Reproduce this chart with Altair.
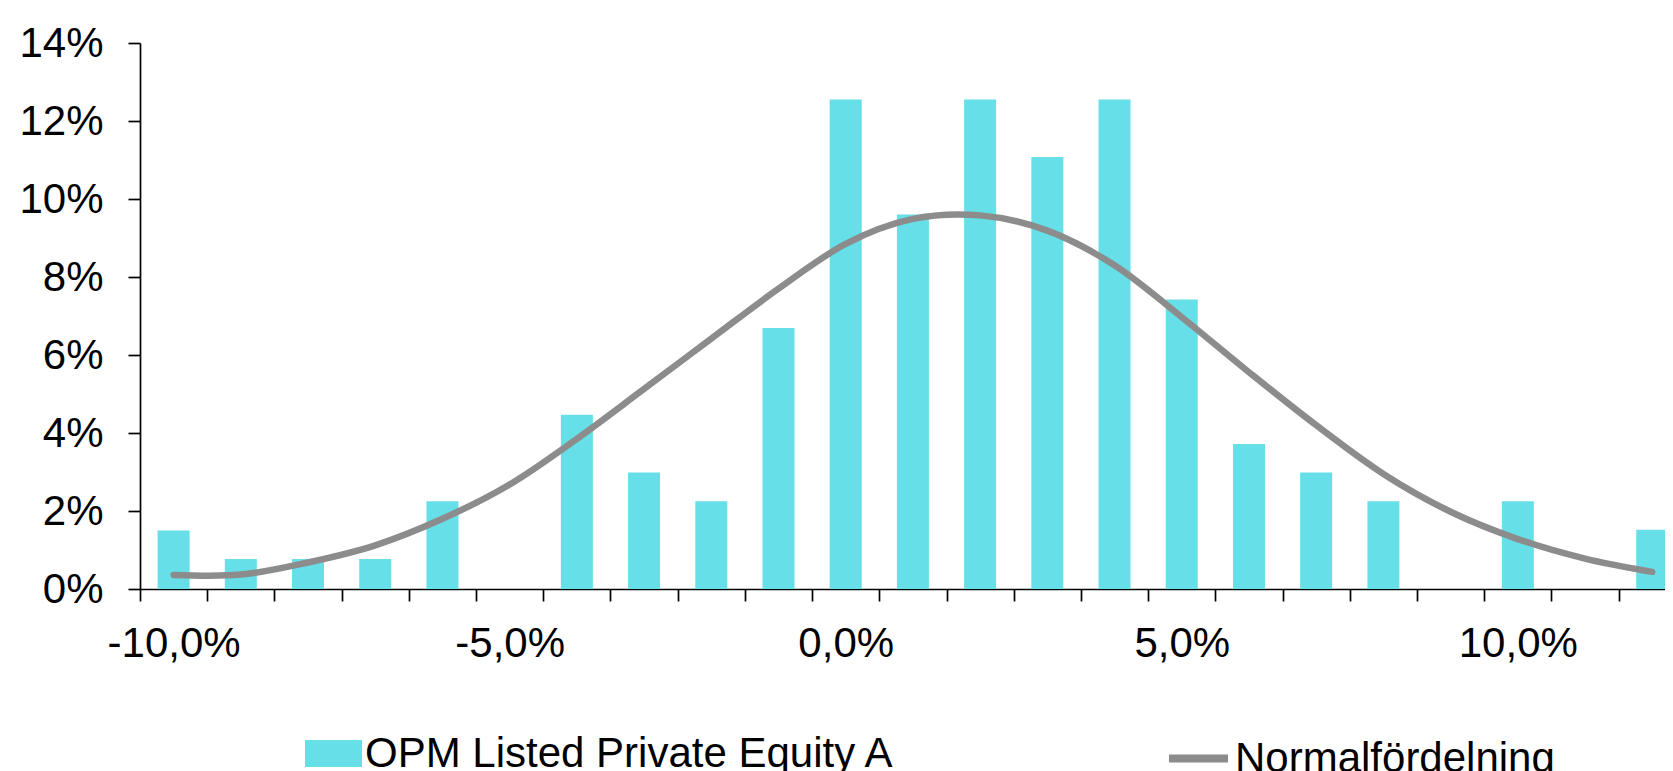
import altair as alt
import pandas as pd

# ---- data (values in percent) ----
bins = list(range(-10, 13))  # bin centres, in %
fund_share = [1.50, 0.77, 0.77, 0.77, 2.25, 0.00, 4.47, 2.99, 2.25, 6.69,
              12.55, 9.60, 12.55, 11.08, 12.55, 7.42, 3.72, 2.99, 2.25, 0.00,
              2.25, 0.00, 1.52]
normal_share = [0.36, 0.37, 0.68, 1.12, 1.80, 2.68, 3.85, 5.13, 6.42, 7.70,
                8.85, 9.49, 9.58, 9.19, 8.30, 6.97, 5.56, 4.20, 2.95, 1.98,
                1.28, 0.78, 0.44]
y_tick_values = [0.00, 0.02, 0.04, 0.06, 0.08, 0.10, 0.12, 0.14]
x_label_values = [-10, -5, 0, 5, 10]
x_tick_values = [b - 0.5 for b in bins]
series_fund = "OPM Listed Private Equity A"
series_normal = "Normalfördelning"

df = pd.DataFrame({
    "bin": bins,
    "fund": [v / 100 for v in fund_share],
    "normal": [v / 100 for v in normal_share],
    "s_fund": series_fund,
    "s_normal": series_normal,
})

FONT = "Liberation Sans"
BAR_COLOR = "#66dfe8"
LINE_COLOR = "#8c8c8c"
AXIS_COLOR = "#000000"

x_scale = alt.Scale(domain=[-10.5, 12.19], nice=False, zero=False, padding=0)
y_scale = alt.Scale(domain=[0, 0.14], nice=False, zero=True, padding=0)

x_axis = alt.Axis(
    title=None,
    values=x_tick_values + x_label_values,
    labelExpr="datum.value % 5 === 0 ? ((datum.value < 0 ? '-' : '') + abs(datum.value) + ',0%') : ''",
    tickOpacity={"condition": {"test": "datum.value % 1 === 0", "value": 0}, "value": 1},
    grid=False,
    domainColor=AXIS_COLOR,
    domainWidth=1.7,
    tickColor=AXIS_COLOR,
    tickWidth=1.7,
    tickSize=12,
    labelFont=FONT,
    labelFontSize=42,
    labelColor="#000000",
    labelPadding=22,
    labelOverlap=False,
    labelFlush=False,
    labelBound=False,
)

y_axis = alt.Axis(
    title=None,
    values=y_tick_values,
    format=".0%",
    grid=False,
    domainColor=AXIS_COLOR,
    domainWidth=1.7,
    tickColor=AXIS_COLOR,
    tickWidth=1.7,
    tickSize=12,
    labelFont=FONT,
    labelFontSize=42,
    labelColor="#000000",
    labelPadding=25,
    labelOverlap=False,
)

bars = alt.Chart(df).mark_bar(size=32).encode(
    x=alt.X("bin:Q", scale=x_scale, axis=x_axis),
    y=alt.Y("fund:Q", scale=y_scale, axis=y_axis),
    fill=alt.Fill(
        "s_fund:N",
        scale=alt.Scale(domain=[series_fund], range=[BAR_COLOR]),
        legend=alt.Legend(
            title=None,
            orient="none",
            legendX=165,
            legendY=682,
            padding=0,
            symbolType="M-1,-0.47L1,-0.47L1,0.47L-1,0.47Z",
            symbolSize=3249,
            symbolStrokeWidth=0,
            symbolOpacity=1,
            labelFont=FONT,
            labelFontSize=42,
            labelColor="#000000",
            labelOffset=3,
            labelLimit=2000,
        ),
    ),
)

line = alt.Chart(df).mark_line(
    strokeWidth=6.5, interpolate="cardinal", tension=0, strokeCap="round", strokeJoin="round"
).encode(
    x=alt.X("bin:Q", scale=x_scale),
    y=alt.Y("normal:Q", scale=y_scale),
    stroke=alt.Stroke(
        "s_normal:N",
        scale=alt.Scale(domain=[series_normal], range=[LINE_COLOR]),
        legend=alt.Legend(
            title=None,
            orient="none",
            legendX=1025,
            legendY=682,
            padding=0,
            symbolType="stroke",
            symbolSize=3481,
            symbolStrokeWidth=8,
            symbolOpacity=1,
            labelFont=FONT,
            labelFontSize=42,
            labelColor="#000000",
            labelOffset=3,
            labelLimit=2000,
        ),
    ),
)

chart = alt.layer(bars, line).resolve_legend(fill="independent", stroke="independent").properties(
    width=1525,
    height=546,
    autosize=alt.AutoSizeParams(type="none"),
    padding={"left": 132, "top": 35, "right": 0, "bottom": 182},
    background="white",
).configure_view(strokeWidth=0)

chart.save("out.html", embed_options={"renderer": "svg", "actions": False})
